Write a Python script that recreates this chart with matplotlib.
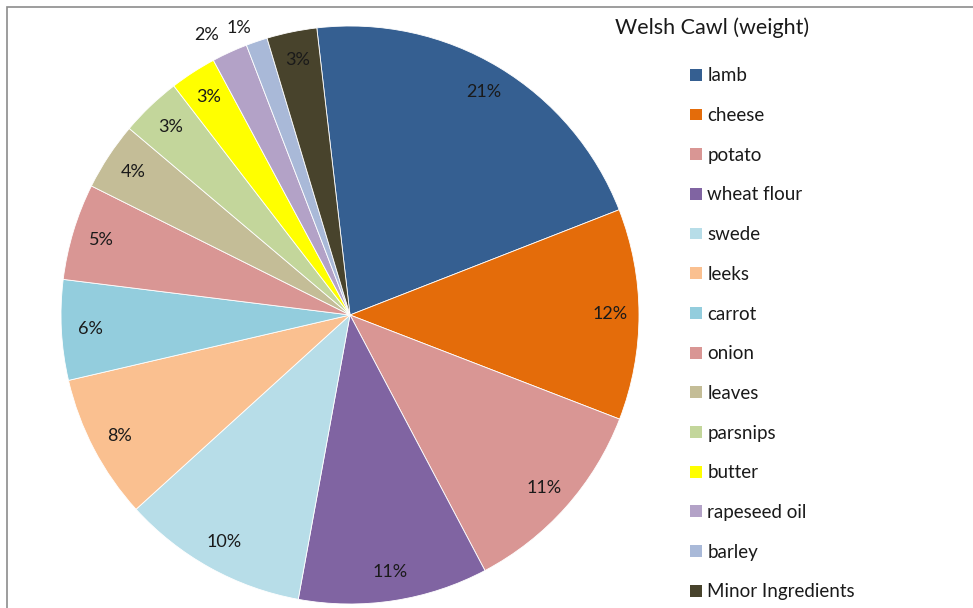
import numpy as np
import matplotlib.pyplot as plt
from matplotlib.patches import Rectangle

plt.rcParams["font.family"] = ["Lato", "DejaVu Sans"]

ingredients = [
    "lamb",
    "cheese",
    "potato",
    "wheat flour",
    "swede",
    "leeks",
    "carrot",
    "onion",
    "leaves",
    "parsnips",
    "butter",
    "rapeseed oil",
    "barley",
    "Minor Ingredients",
]
weights = [20.9, 11.8, 11.4, 10.6, 10.4, 8.1, 5.6, 5.4, 3.8, 3.4, 2.6, 2.0, 1.2, 2.8]
colours = [
    "#355f91",
    "#e46c0a",
    "#d99694",
    "#8064a2",
    "#b7dde8",
    "#fac090",
    "#93cddd",
    "#d99694",
    "#c4bd97",
    "#c3d69b",
    "#ffff00",
    "#b3a2c7",
    "#a9b9d8",
    "#48432c",
]

W, H = 973, 608
fig = plt.figure(figsize=(W / 100, H / 100), dpi=100)

# chart area border
fig.add_artist(Rectangle((7 / W, -0.05), 1.1, (H - 7) / H + 0.05,
                         transform=fig.transFigure, fill=False,
                         edgecolor="#8c8c8c", linewidth=1.2))

R = 289
cx, cy = 350, H - 315
ax = fig.add_axes([(cx - R) / W, (cy - R) / H, 2 * R / W, 2 * R / H])
wedges, texts, autotexts = ax.pie(
    weights,
    colors=colours,
    startangle=96.6,
    counterclock=False,
    radius=1,
    autopct="%.0f%%",
    pctdistance=0.9,
    wedgeprops=dict(linewidth=0.6, edgecolor="white"),
    textprops=dict(fontsize=13, color="#1a1a1a"),
)
ax.set_xlim(-1, 1)
ax.set_ylim(-1, 1)
ax.set_aspect("equal")
ax.axis("off")

# the two thinnest slices get their labels outside the pie
for i, dist, shift in ((11, 1.09, 2.5), (12, 1.065, 2.3)):
    w = wedges[i]
    ang = np.deg2rad((w.theta1 + w.theta2) / 2 + shift)
    autotexts[i].set_position((dist * np.cos(ang), dist * np.sin(ang)))

fig.text(615 / W, 1 - 28 / H, "Welsh Cawl (weight)", fontsize=15.5,
         color="#1a1a1a", va="center", ha="left")

leg = fig.legend(
    wedges,
    ingredients,
    loc="upper left",
    bbox_to_anchor=(681 / W, 1 - 58 / H),
    frameon=False,
    fontsize=13.5,
    handlelength=0.6,
    handleheight=0.6,
    handletextpad=0.3,
    labelspacing=1.21,
    borderpad=0,
    labelcolor="#1a1a1a",
)
for h in leg.legend_handles:
    h.set_linewidth(0)

fig.savefig("out.png", dpi=100)
